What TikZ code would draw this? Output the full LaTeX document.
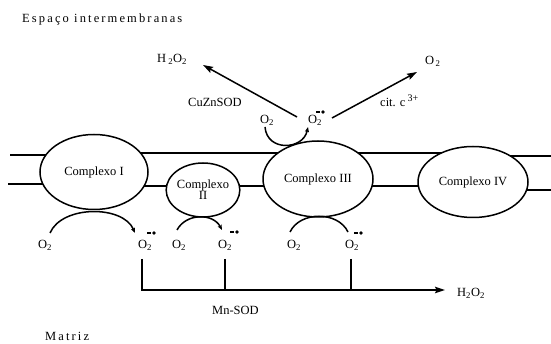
\documentclass[tikz,border=0pt]{standalone}
\usepackage{fontspec}
\setmainfont{Liberation Serif}
\usetikzlibrary{arrows.meta,shapes.geometric}
\begin{document}
\begin{tikzpicture}[x=1pt,y=-1pt,
  every node/.style={font=\fontsize{12.5}{14}\selectfont},
  membrane/.style={line width=1.8pt},
  cplx/.style={ellipse,draw,line width=1.5pt,fill=white,inner sep=0pt,align=center},
  lbl/.style={inner sep=0pt,anchor=base west},
  conn/.style={line width=1.5pt},
  arr/.style={line width=1.5pt,-{Stealth[length=10pt,width=6.5pt,inset=1.5pt]}},
  smallarr/.style={line width=1.5pt,-{Stealth[length=5pt,width=4pt,inset=0.8pt]}},
  spaced/.style={font=\fontsize{12.5}{14}\selectfont\addfontfeature{LetterSpace=17}},
  % superoxide radical mark: short dash followed by a dot
  radical/.pic={\draw[line width=1.3pt] (-5,0) -- (-1.5,0); \fill (2,0) circle (1.8pt);}]
\useasboundingbox (0,0) rectangle (551,344);

% inner membrane
\draw[membrane] (10,155) -- (60,155);
\draw[membrane] (130,153) -- (450,153);
\draw[membrane] (500,156) -- (551,156);
\draw[membrane] (8,184) -- (60,184);
\draw[membrane] (130,186) -- (450,186);
\draw[membrane] (500,190) -- (551,190);

% respiratory complexes
\node[cplx,minimum width=108pt,minimum height=75pt] (c1) at (94,172) {Complexo I};
\node[cplx,minimum width=63pt,minimum height=54pt] (c2) at (203,190) {Complexo\\[-3pt]II};
\node[cplx,minimum width=110pt,minimum height=76pt] (c3) at (318,179) {Complexo III};
\node[cplx,minimum width=110pt,minimum height=71pt] (c4) at (473,182) {Complexo IV};

% compartment names
\node[lbl,spaced] (ims) at (22,23) {Espaço intermembranas};
\node[lbl,spaced] (mat) at (45,340) {M\,atriz};

% intermembrane side
\node[lbl] (h2top) at (157,63) {H\,\textsubscript{2}O\textsubscript{2}};
\node[lbl] (cuzn) at (188,107) {CuZnSOD};
\node[lbl] (o2out) at (425,65) {O\textsubscript{\,2}};
\node[lbl] (cit) at (380,107) {cit. c\,\raisebox{5pt}{\fontsize{10}{10}\selectfont 3+}};
\node[lbl] (o2t) at (260,124) {O\textsubscript{2}};
\node[lbl] (supt) at (308,124) {O\textsubscript{2}};
\pic at (321,112) {radical};

\coordinate (ta) at (265,127);
\coordinate (tb) at (308,127);
\draw[smallarr] (ta) .. controls (267,152) and (303,150) .. (tb);
\coordinate (dl0) at (297,117);
\coordinate (dl1) at (203,65);
\draw[arr] (dl0) -- (dl1);
\coordinate (dr0) at (332,118);
\coordinate (dr1) at (417,72);
\draw[arr] (dr0) -- (dr1);

% matrix side
\node[lbl] (o2a) at (38,249) {O\textsubscript{2}};
\node[lbl] (sa) at (138,249) {O\textsubscript{2}};
\pic at (152,233) {radical};
\node[lbl] (o2b) at (172,249) {O\textsubscript{2}};
\node[lbl] (sb) at (218,249) {O\textsubscript{2}};
\pic at (235,232) {radical};
\node[lbl] (o2c) at (287,249) {O\textsubscript{2}};
\node[lbl] (sc) at (345,249) {O\textsubscript{2}};
\pic at (359,233) {radical};

\coordinate (aa) at (50,233);
\coordinate (ab) at (135,233);
\draw[smallarr] (aa) .. controls (62,205) and (123,205) .. (ab);
\coordinate (ba) at (177,230);
\coordinate (bb) at (222,230);
\draw[smallarr] (ba) .. controls (186,213) and (213,213) .. (bb);
\coordinate (ca) at (290,232);
\coordinate (cb) at (348,232);
\draw[conn] (ca) .. controls (300,211) and (338,211) .. (cb);

% Mn-SOD dismutation
\node[lbl] (h2bot) at (457,297) {H\textsubscript{2}O\textsubscript{2}};
\node[lbl] (mnsod) at (212,315) {Mn-SOD};
\coordinate (va) at (142,259);
\coordinate (vb) at (225,259);
\coordinate (vc) at (351,259);
\coordinate (hend) at (445,290);
\draw[arr] (va) |- (hend);
\draw[line width=1.8pt] (vb) -- (vb |- hend);
\draw[line width=1.8pt] (vc) -- (vc |- hend);
\end{tikzpicture}
\end{document}
